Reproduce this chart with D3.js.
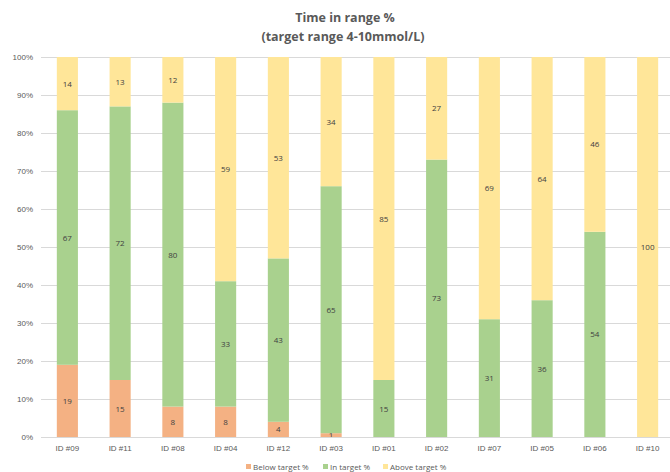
<!DOCTYPE html>
<html><head><meta charset="utf-8">
<script src="https://cdn.jsdelivr.net/npm/d3@7"></script>
<style>body{margin:0;background:#fff}svg{display:block;font-family:"Open Sans",sans-serif}</style>
</head><body><svg id="c" width="670" height="472"></svg>
<script>
const categories = ["ID #09","ID #11","ID #08","ID #04","ID #12","ID #03","ID #01","ID #02","ID #07","ID #05","ID #06","ID #10"];
const below = [19,15,8,8,4,1,0,0,0,0,0,0];
const inTarget = [67,72,80,33,43,65,15,73,31,36,54,0];
const above = [14,13,12,59,53,34,85,27,69,64,46,100];
const seriesNames = ["Below target %","In target %","Above target %"];
const colors = ["#F4B183","#A9D18E","#FFE699"];
const yTicks = [0,10,20,30,40,50,60,70,80,90,100];

const svg = d3.select("#c");
const x = d3.scaleBand().domain(categories).range([41,674]).paddingInner(0.6).paddingOuter(0.3);
const y = d3.scaleLinear().domain([0,100]).range([437,57]);

// gridlines
svg.append("g").selectAll("line").data(yTicks).join("line")
  .attr("x1",41).attr("x2",674).attr("y1",d=>y(d)+0.5).attr("y2",d=>y(d)+0.5)
  .attr("stroke","#D9D9D9").attr("stroke-width",1);

const yAxis = d3.axisLeft(y).tickValues(yTicks).tickFormat(d=>d+"%").tickSize(0).tickPadding(8);
const ga = svg.append("g").attr("transform","translate(41,0)").call(yAxis);
ga.select(".domain").remove();
ga.selectAll("text").attr("fill","#595959").style("font-size","8px");

const rows = categories.map((c,i)=>({cat:c,b:below[i],t:inTarget[i],a:above[i]}));
const stack = d3.stack().keys(["b","t","a"])(rows);

stack.forEach((s,si)=>{
  const g = svg.append("g");
  g.selectAll("rect").data(s).join("rect")
    .attr("x",d=>x(d.data.cat)).attr("width",x.bandwidth())
    .attr("y",d=>y(d[1])).attr("height",d=>y(d[0])-y(d[1]))
    .attr("fill",colors[si]);
  g.selectAll("text").data(s.filter(d=>d[1]-d[0]>0)).join("text")
    .attr("x",d=>x(d.data.cat)+x.bandwidth()/2)
    .attr("y",d=>y((d[0]+d[1])/2)+3)
    .attr("text-anchor","middle").attr("fill","#404040").style("font-size","8px")
    .text(d=>d[1]-d[0]);
});

// x axis
const xAxis = d3.axisBottom(x).tickSize(0).tickPadding(8);
const gx = svg.append("g").attr("transform","translate(0,437)").call(xAxis);
gx.select(".domain").attr("stroke","#D9D9D9");
gx.selectAll("text").attr("fill","#595959").style("font-size","8px");

// title
svg.append("text").attr("x",345).attr("y",22).attr("text-anchor","middle")
  .attr("fill","#595959").style("font-size","12.5px").style("font-weight","bold").text("Time in range %");
svg.append("text").attr("x",343).attr("y",41).attr("text-anchor","middle")
  .attr("fill","#595959").style("font-size","12.5px").style("font-weight","bold").text("(target range 4-10mmol/L)");

// legend
const legX = [246,323,383];
const lg = svg.append("g");
seriesNames.forEach((n,i)=>{
  lg.append("rect").attr("x",legX[i]).attr("y",464).attr("width",5).attr("height",5).attr("fill",colors[i]);
  lg.append("text").attr("x",legX[i]+7).attr("y",470).attr("fill","#595959").style("font-size","8px").text(n);
});
</script></body></html>
